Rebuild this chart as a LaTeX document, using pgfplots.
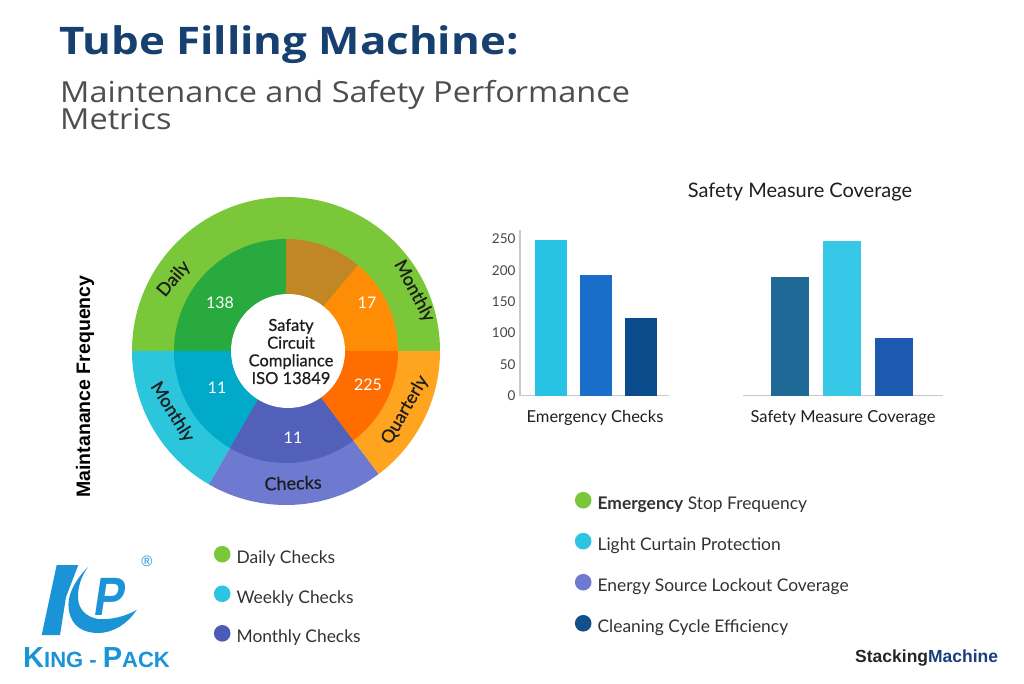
\documentclass[border=0pt]{standalone}
\usepackage{fontspec}
\setmainfont{Lato}
\newfontfamily\latomed{Lato}[FakeBold=0.7]
\newfontfamily\osans{Open Sans}
\newfontfamily\lsans{Liberation Sans}
\usepackage{pgfplots}
\pgfplotsset{compat=1.18}

\definecolor{titleblue}{RGB}{22,64,112}
\definecolor{subgray}{RGB}{78,78,78}
\definecolor{darktext}{RGB}{30,30,30}
\definecolor{legtext}{RGB}{50,50,50}
\definecolor{axisgray}{RGB}{200,200,200}
\definecolor{ticktext}{RGB}{70,70,70}
% donut
\definecolor{oGreen}{RGB}{122,200,58}
\definecolor{oCyan}{RGB}{44,198,220}
\definecolor{oPurple}{RGB}{110,122,208}
\definecolor{oOrange}{RGB}{255,164,30}
\definecolor{iGreen}{RGB}{40,170,62}
\definecolor{iOchre}{RGB}{192,135,36}
\definecolor{iOrange}{RGB}{255,140,5}
\definecolor{iDOrange}{RGB}{255,108,0}
\definecolor{iTeal}{RGB}{0,170,200}
\definecolor{iPurple}{RGB}{82,96,186}
% bars
\definecolor{bA}{RGB}{40,195,228}
\definecolor{bB}{RGB}{24,110,200}
\definecolor{bC}{RGB}{10,75,140}
\definecolor{bD}{RGB}{30,105,150}
\definecolor{bE}{RGB}{55,200,232}
\definecolor{bF}{RGB}{27,90,175}
% legends
\definecolor{lGreen}{RGB}{122,200,58}
\definecolor{lCyan}{RGB}{44,196,224}
\definecolor{lPurple}{RGB}{76,90,185}
\definecolor{lLav}{RGB}{110,122,208}
\definecolor{lNavy}{RGB}{18,80,140}
\definecolor{logoblue}{RGB}{26,148,214}
\definecolor{smnavy}{RGB}{26,62,124}

\newcommand{\seg}[4]{\fill[#1] (axis cs:286,332) -- ++(#2:#4pt) arc[start angle=#2, end angle=#3, radius=#4pt] -- cycle;}

\pgfplotsset{
  dotlegend/.style={
    legend image code/.code={\fill[##1, draw=none] (8.3pt,0.36em) circle (8.3pt); \path (22.5pt,0.36em);},
    legend cell align=left,
  },
}

\begin{document}
\begin{tikzpicture}[x=1pt,y=1pt]
\fill[white] (0,0) rectangle (1024,683);

% ---------------- donut (base axis) ----------------
\begin{axis}[at={(0pt,0pt)}, anchor=south west, x=1pt, y=1pt,
  xmin=0, xmax=1024, ymin=0, ymax=683, hide axis, clip=false,
  dotlegend,
  legend style={at={(0.2087,0.2010)}, anchor=north west, draw=none, fill=none,
    inner sep=0pt, row sep=20.5pt, nodes={inner sep=0pt, text=legtext},
    font=\fontsize{17.4}{19}\selectfont},
]
\addlegendimage{fill=lGreen}\addlegendentry{Daily Checks}
\addlegendimage{fill=lCyan}\addlegendentry{Weekly Checks}
\addlegendimage{fill=lPurple}\addlegendentry{Monthly Checks}
% outer ring
\seg{oGreen}{0}{180}{154}
\seg{oCyan}{180}{240}{154}
\seg{oPurple}{240}{307}{154}
\seg{oOrange}{307}{360}{154}
% inner ring
\seg{iGreen}{90}{180}{112}
\seg{iOchre}{50}{90}{112}
\seg{iOrange}{0}{50}{112}
\seg{iTeal}{180}{240}{112}
\seg{iPurple}{240}{307}{112}
\seg{iDOrange}{307}{360}{112}
\fill[white] (axis cs:288,332) circle (57pt);
\end{axis}

% ---------------- bar group 1 ----------------
\begin{axis}[at={(520pt,287.3pt)}, anchor=south west, x=1pt, y=0.627pt,
  xmin=0, xmax=149, ymin=0, ymax=264, clip=false,
  axis x line=bottom, axis y line=left,
  axis line style={-, draw=axisgray, line width=1.3pt},
  every outer x axis line/.append style={-}, every outer y axis line/.append style={-},
  xtick=\empty, ytick={0,50,100,150,200,250}, major tick length=0pt,
  /pgf/number format/assume math mode=true,
  yticklabel style={font=\fontsize{13.5}{16}\selectfont, text=ticktext, xshift=-1pt},
]
\addplot[ybar, bar width=32pt, bar shift=0pt, fill=bA, draw=none] coordinates {(31,248)};
\addplot[ybar, bar width=32pt, bar shift=0pt, fill=bB, draw=none] coordinates {(76,192)};
\addplot[ybar, bar width=32pt, bar shift=0pt, fill=bC, draw=none] coordinates {(121,124)};
\end{axis}

% ---------------- bar group 2 ----------------
\begin{axis}[at={(743pt,287.3pt)}, anchor=south west, x=1pt, y=0.627pt,
  xmin=0, xmax=200, ymin=0, ymax=264, clip=false,
  axis x line=bottom, axis y line=none,
  axis line style={-, draw=axisgray, line width=1.3pt},
  every outer x axis line/.append style={-},
  xtick=\empty, ytick=\empty, major tick length=0pt,
  dotlegend,
  legend style={at={(-0.8415,-0.580)}, anchor=north west, draw=none, fill=none,
    inner sep=0pt, row sep=22pt, nodes={inner sep=0pt, text=legtext},
    font=\fontsize{17.4}{19}\selectfont},
]
\addplot[ybar, bar width=38pt, bar shift=0pt, fill=bD, draw=none, forget plot] coordinates {(47,189)};
\addplot[ybar, bar width=38pt, bar shift=0pt, fill=bE, draw=none, forget plot] coordinates {(99,247)};
\addplot[ybar, bar width=38pt, bar shift=0pt, fill=bF, draw=none, forget plot] coordinates {(150.5,92)};
\addlegendimage{fill=lGreen}\addlegendentry{\textbf{Emergency} Stop Frequency}
\addlegendimage{fill=lCyan}\addlegendentry{Light Curtain Protection}
\addlegendimage{fill=lLav}\addlegendentry{Energy Source Lockout Coverage}
\addlegendimage{fill=lNavy}\addlegendentry{Cleaning Cycle Efficiency}
\end{axis}

% ---------------- texts ----------------
\node[anchor=base west, inner sep=0pt, text=titleblue, font=\osans\bfseries\fontsize{38}{40}\selectfont] at (59,628) {\scalebox{1.154}[1]{Tube Filling Machine:}};
\node[anchor=base west, inner sep=0pt, text=subgray, font=\osans\fontsize{29}{30}\selectfont] at (60,580) {\scalebox{1.12}[1]{Maintenance and Safety Performance}};
\node[anchor=base west, inner sep=0pt, text=subgray, font=\osans\fontsize{29}{30}\selectfont] at (60,553) {\scalebox{1.12}[1]{Metrics}};

\node[text=darktext, font=\fontsize{20}{22}\selectfont] at (800,491) {Safety Measure Coverage};
\node[text=darktext, font=\fontsize{16.5}{19}\selectfont] at (595,265) {Emergency Checks};
\node[text=darktext, font=\fontsize{16.5}{19}\selectfont] at (843,265) {Safety Measure Coverage};

\node[rotate=90, text=black, font=\lsans\bfseries\fontsize{19.5}{20}\selectfont] at (85,296.5) {Maintanance Frequency};

% donut labels
\begin{scope}[every node/.style={text=darktext, font=\latomed\fontsize{18}{20}\selectfont, inner sep=0pt}]
\node[rotate=50] at (174,404) {Daily};
\node[rotate=-62] at (414,392) {Monthly};
\node[rotate=-58] at (172,271) {Monthly};
\node[rotate=2] at (293,200) {Checks};
\node[rotate=60] at (405,273) {Quarterly};
\end{scope}
\begin{scope}[every node/.style={text=white, font=\fontsize{16}{18}\selectfont, inner sep=0pt}]
\node at (220,380) {138};
\node at (367,380) {17};
\node at (217,295) {11};
\node at (368,298) {225};
\node at (293,245) {11};
\end{scope}
\node[align=center, text=darktext, font=\latomed\fontsize{16.5}{17.7}\selectfont, inner sep=0pt] at (291,331.5) {Safaty\\Circuit\\Compliance\\ISO 13849};

% logo
\fill[logoblue] (56.7,118) -- (78.3,118) -- (66,86) -- (60,48) -- (41.7,48) -- cycle;
\fill[logoblue] (88.3,116.3) .. controls (76,104) and (66,88) .. (69,72)
  .. controls (72,56) and (84,50) .. (98,50)
  .. controls (114,50) and (128,60) .. (136.7,73)
  .. controls (124,66) and (110,63) .. (98,64)
  .. controls (86,66) and (78,74) .. (78,86)
  .. controls (78,98) and (82,108) .. (88.3,116.3) -- cycle;
\node[text=logoblue, font=\lsans\bfseries\fontsize{54}{54}\selectfont, inner sep=0pt, xslant=0.15] at (111,86.3) {\scalebox{0.85}[1]{P}};
\node[text=logoblue, font=\lsans\fontsize{15}{15}\selectfont, inner sep=0pt] at (147,121.3) {®};
\node[anchor=base west, inner sep=0pt, text=logoblue, font=\lsans\bfseries] at (23,16)
  {\fontsize{29}{29}\selectfont K\fontsize{22}{22}\selectfont ING - \fontsize{29}{29}\selectfont P\fontsize{22}{22}\selectfont ACK};

\node[anchor=base west, inner sep=0pt, font=\lsans\bfseries\fontsize{17.5}{17.5}\selectfont] at (855,21)
  {\textcolor{black!85}{Stacking}\textcolor{smnavy}{Machine}};
\end{tikzpicture}
\end{document}
